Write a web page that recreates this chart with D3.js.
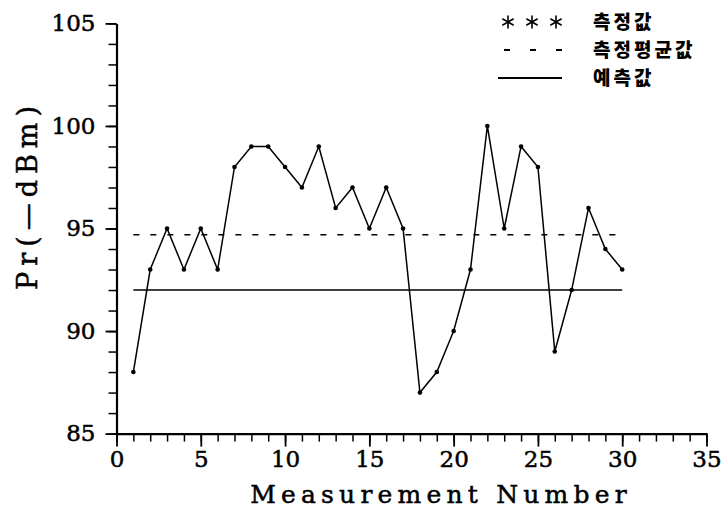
<!DOCTYPE html>
<html>
<head>
<meta charset="utf-8">
<script src="https://cdn.jsdelivr.net/npm/d3@7"></script>
<style>
  body { margin: 0; background: #fff; }
  svg { display: block; }
  .tick text { font-family: "DejaVu Serif", serif; font-size: 23px; fill: #000; stroke: #000; stroke-width: 0.5px; }
  .axis path, .axis line { stroke: #000; }
  .title { font-family: "DejaVu Serif", serif; fill: #000; stroke: #000; stroke-width: 0.5px; }
  .legend text { font-family: "Noto Sans CJK KR", sans-serif; font-weight: 900; font-size: 19px; letter-spacing: 3px; }
</style>
</head>
<body>
<div id="chart"></div>
<script>
// measurement index and the measured received power
let measNo = [1, 2, 3, 4, 5, 6, 7, 8, 9, 10, 11, 12, 13, 14, 15,
  16, 17, 18, 19, 20, 21, 22, 23, 24, 25, 26, 27, 28, 29, 30];
let measured = [88, 93, 95, 93, 95, 93, 98, 99, 99, 98, 97, 99, 96, 97, 95,
  97, 95, 87, 88, 90, 93, 100, 95, 99, 98, 89, 92, 96, 94, 93];
// mean of the measured values and the predicted value
let meanLevel = 94.7;
let predicted = 92;
let xTicks = [0, 5, 10, 15, 20, 25, 30, 35];
let yTicks = [85, 90, 95, 100, 105];
let legendLabels = ['측정값', '측정평균값', '예측값'];

let width = 723, height = 514;

let svg = d3.select('#chart')
  .append('svg')
  .attr('width', width)
  .attr('height', height);

let x = d3.scaleLinear().domain([0, 35]).range([116.5, 706.5]);
let y = d3.scaleLinear().domain([85, 105]).range([433.6, 23.4]);

// minor ticks first (no labels)
svg.append('g')
  .attr('class', 'axis')
  .attr('transform', `translate(0,${y(85)})`)
  .call(d3.axisBottom(x).tickValues(d3.range(0, 36)).tickSize(8).tickSizeOuter(0).tickFormat(''))
  .call(g => g.selectAll('line').attr('stroke-width', 1.5))
  .call(g => g.select('.domain').attr('stroke-width', 2.2));

svg.append('g')
  .attr('class', 'axis')
  .attr('transform', `translate(0,${y(85)})`)
  .call(d3.axisBottom(x).tickValues(xTicks).tickSize(13).tickPadding(4).tickSizeOuter(0))
  .call(g => g.select('.domain').remove())
  .call(g => g.selectAll('line').attr('stroke-width', 1.8));

svg.append('g')
  .attr('class', 'axis')
  .attr('transform', `translate(${x(0)},0)`)
  .call(d3.axisLeft(y).tickValues(d3.range(85, 106)).tickSize(8).tickSizeOuter(0).tickFormat(''))
  .call(g => g.selectAll('line').attr('stroke-width', 1.5))
  .call(g => g.select('.domain').attr('stroke-width', 2.2));

svg.append('g')
  .attr('class', 'axis')
  .attr('transform', `translate(${x(0)},0)`)
  .call(d3.axisLeft(y).tickValues(yTicks).tickSize(11).tickPadding(10).tickSizeOuter(0))
  .call(g => g.select('.domain').remove())
  .call(g => g.selectAll('line').attr('stroke-width', 1.8));

// axis titles
svg.append('text')
  .attr('class', 'title')
  .attr('x', 441)
  .attr('y', 503)
  .attr('text-anchor', 'middle')
  .style('font-size', '25px')
  .style('letter-spacing', '5.2px')
  .text('Measurement Number');

svg.append('text')
  .attr('class', 'title')
  .attr('transform', 'translate(37,195) rotate(-90)')
  .attr('text-anchor', 'middle')
  .style('font-size', '27px')
  .style('letter-spacing', '6px')
  .text('Pr(—dBm)');

// mean and predicted levels
svg.append('line')
  .attr('x1', x(1)).attr('x2', x(30))
  .attr('y1', y(meanLevel)).attr('y2', y(meanLevel))
  .attr('stroke', '#000')
  .attr('stroke-width', 1.5)
  .attr('stroke-dasharray', '6,11');

svg.append('line')
  .attr('x1', x(1)).attr('x2', x(30))
  .attr('y1', y(predicted)).attr('y2', y(predicted))
  .attr('stroke', '#000')
  .attr('stroke-width', 1.6);

// measured series
let points = measNo.map((n, i) => [n, measured[i]]);
svg.append('path')
  .datum(points)
  .attr('fill', 'none')
  .attr('stroke', '#000')
  .attr('stroke-width', 1.5)
  .attr('d', d3.line().x(d => x(d[0])).y(d => y(d[1])));

svg.append('g')
  .selectAll('circle')
  .data(points)
  .join('circle')
  .attr('cx', d => x(d[0]))
  .attr('cy', d => y(d[1]))
  .attr('r', 2.3)
  .attr('fill', '#000');

// legend
let legend = svg.append('g').attr('class', 'legend');
let rowY = [22, 50, 78];

legend.selectAll('path.star')
  .data([508, 532, 556])
  .join('path')
  .attr('class', 'star')
  .attr('transform', d => `translate(${d},${rowY[0]})`)
  .attr('d', d3.symbol(d3.symbolAsterisk, 120))
  .attr('fill', 'none')
  .attr('stroke', '#000')
  .attr('stroke-width', 1.6);

legend.append('line')
  .attr('x1', 504).attr('x2', 562)
  .attr('y1', rowY[1]).attr('y2', rowY[1])
  .attr('stroke', '#000')
  .attr('stroke-width', 1.8)
  .attr('stroke-dasharray', '6,20');

legend.append('line')
  .attr('x1', 498).attr('x2', 562)
  .attr('y1', rowY[2]).attr('y2', rowY[2])
  .attr('stroke', '#000')
  .attr('stroke-width', 1.8);

legend.selectAll('text')
  .data(legendLabels)
  .join('text')
  .attr('x', 593)
  .attr('y', (d, i) => rowY[i] + 7)
  .text(d => d);
</script>
</body>
</html>
